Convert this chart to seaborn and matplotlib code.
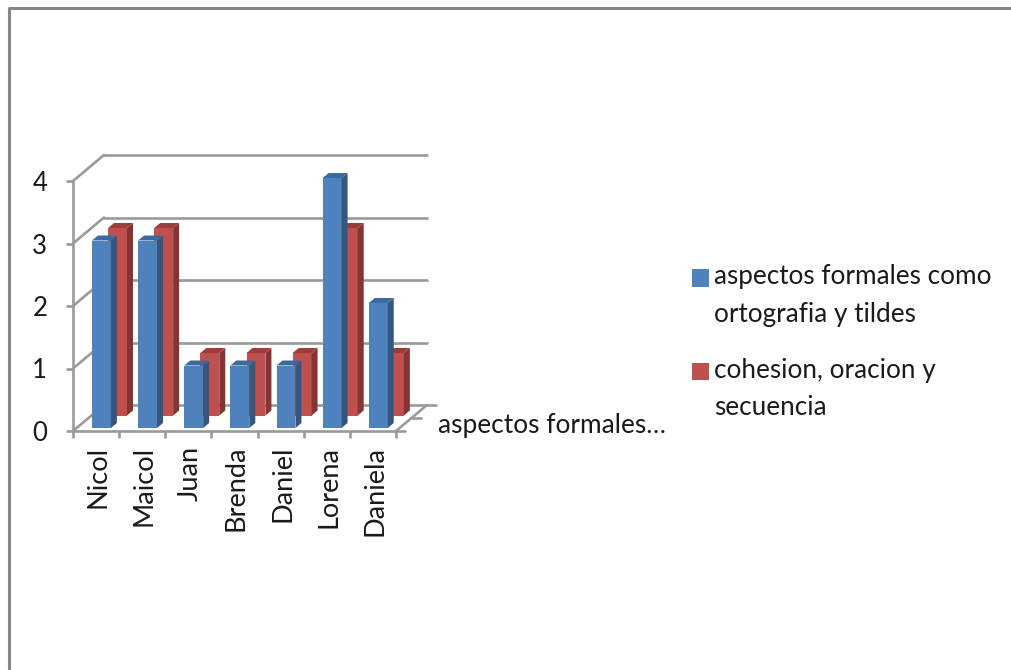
import pandas as pd
import matplotlib.pyplot as plt
import seaborn as sns
from matplotlib.lines import Line2D
from matplotlib.patches import Polygon
from matplotlib.transforms import Affine2D, IdentityTransform

# Data
nombres = ["Nicol", "Maicol", "Juan", "Brenda", "Daniel", "Lorena", "Daniela"]
aspectos = [3, 3, 1, 1, 1, 4, 2]
cohesion = [3, 3, 1, 1, 1, 3, 1]
serie_a = "aspectos formales como\nortografia y tildes"
serie_b = "cohesion, oracion y\nsecuencia"
valores_y = [0, 1, 2, 3, 4]
rotulo_serie = "aspectos formales…"

W, H = 1011, 670
GRIS = "#9a9a9a"
TEXTO = "#1a1a1a"

sns.set_theme(style="white")
plt.rcParams["font.family"] = ["Lato", "DejaVu Sans"]

df = pd.DataFrame({"nombre": nombres, serie_a: aspectos, serie_b: cohesion})
df = df.melt(id_vars="nombre", var_name="serie", value_name="valor")

fig = plt.figure(figsize=(W / 100, H / 100), dpi=100, facecolor="white")
ax = fig.add_axes([73 / W, (H - 431) / H, 323 / W, 250 / H])
ax.patch.set_alpha(0)

sns.barplot(data=df, x="nombre", y="valor", hue="serie", hue_order=[serie_a, serie_b],
            palette=["#4f81bd", "#c0504d"], width=0.82, gap=0, saturation=1,
            linewidth=0, ax=ax)
ax.set_xlim(-0.5, 6.5)
ax.set_ylim(0, 4)
ax.set_xlabel("")
ax.set_ylabel("")

# Walls of the 3D box, shifted in pixels from the front axis
fondo = Affine2D().translate(31, 26)
px = ax.transData.transform
for v in valores_y:
    ax.plot([-0.5, 6.5], [v, v], color=GRIS, lw=1.9, zorder=1, clip_on=False,
            transform=ax.transData + fondo)
    x0, y0 = px((-0.5, v))
    ax.plot([x0, x0 + 31], [y0, y0 + 26], color=GRIS, lw=1.9, zorder=1, clip_on=False,
            transform=IdentityTransform())

# Depth axis on the right of the floor
x1, y1 = px((6.5, 0))
ax.plot([x1, x1 + 31], [y1, y1 + 26], color=GRIS, lw=1.9, zorder=1, clip_on=False,
        transform=IdentityTransform())
for f in [0, 0.5, 1]:
    ax.plot([x1 + 31 * f, x1 + 31 * f + 9], [y1 + 26 * f, y1 + 26 * f], color=GRIS, lw=1.9,
            zorder=1, clip_on=False, transform=IdentityTransform())


def caja(barras, dx, dy, lado, tapa, z):
    # move the flat seaborn bars into place and add side and top faces
    mover = Affine2D().translate(dx, dy)
    for b in barras:
        b.set_transform(ax.transData + mover)
        b.set_zorder(z)
        b.set_clip_on(False)
        (xa, ya), (xb, yb) = px((b.get_x(), b.get_y())), px((b.get_x() + b.get_width(), b.get_height()))
        xa, xb, ya, yb = xa + dx, xb + dx, ya + dy, yb + dy
        ax.add_patch(Polygon([(xb, ya), (xb + 6, ya + 5), (xb + 6, yb + 5), (xb, yb)], closed=True,
                             fc=lado, ec="none", zorder=z, clip_on=False,
                             transform=IdentityTransform()))
        ax.add_patch(Polygon([(xa, yb), (xa + 6, yb + 5), (xb + 6, yb + 5), (xb, yb)], closed=True,
                             fc=tapa, ec="none", zorder=z, clip_on=False,
                             transform=IdentityTransform()))


caja(ax.containers[1], 12, 15.5, "#843533", "#9a3f3c", 2)
caja(ax.containers[0], 14.8, 3, "#33577f", "#3d6a9e", 3)

# Axes
sns.despine(ax=ax, top=True, right=True)
for s in ["left", "bottom"]:
    ax.spines[s].set_color(GRIS)
    ax.spines[s].set_linewidth(1.9)
    ax.spines[s].set_zorder(1)
ax.set_yticks(valores_y)
ax.set_yticklabels([str(v) for v in valores_y])
ax.tick_params(axis="y", length=5, width=1.9, color=GRIS, pad=13.5, labelsize=18.5,
               labelcolor=TEXTO, left=True)
ax.set_xticks(range(len(nombres)))
ax.set_xticklabels(nombres, rotation=90, va="top", ha="center")
ax.set_xticks([i - 0.5 for i in range(len(nombres) + 1)], minor=True)
ax.tick_params(axis="x", which="major", length=0, pad=10.5, labelsize=19.5, labelcolor=TEXTO)
ax.tick_params(axis="x", which="minor", length=5, width=1.9, color=GRIS, bottom=True)
for etiqueta in ax.get_xticklabels():
    etiqueta.set_transform(etiqueta.get_transform() + Affine2D().translate(2, 0))

# Legend
leg = ax.legend(loc="upper left", bbox_to_anchor=(692 / W, (H - 264) / H),
                bbox_transform=fig.transFigure, frameon=False, fontsize=18.8,
                handlelength=0.66, handleheight=0.66, handletextpad=0.2,
                labelspacing=1.18, borderpad=0, borderaxespad=0, labelcolor=TEXTO)
leg.set_zorder(5)
for columna in leg._legend_handle_box.get_children():
    for fila in columna.get_children():
        fila.align = "top"
for h in leg.legend_handles:
    h.set_y(-3.5)
for t in leg.get_texts():
    t.set_linespacing(1.64)

fig.text(438 / W, (H - 433) / H, rotulo_serie, fontsize=18.9, color=TEXTO, va="baseline")

# Outer chart border
fig.add_artist(Line2D([9 / W, 9 / W, 1], [0, (H - 8) / H, (H - 8) / H], color="#868686", lw=2.2))

plt.savefig("out.png", dpi=100)
